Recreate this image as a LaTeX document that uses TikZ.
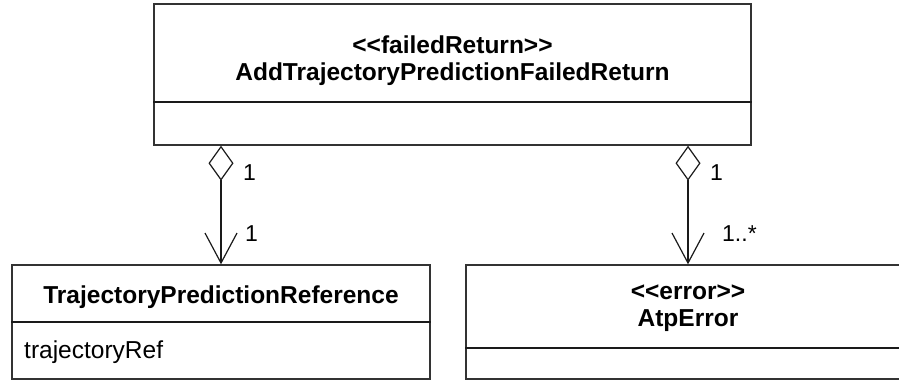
\documentclass[tikz,border=0pt]{standalone}
\usepackage{fontspec}
\setmainfont{Liberation Sans}
\usepackage{tikz}
\usetikzlibrary{arrows.meta, positioning, calc}
\definecolor{umlline}{HTML}{1A1A1A}
\definecolor{umlframe}{HTML}{333333}
\tikzset{
    classbox/.style={rectangle, draw=umlframe, line width=1.4pt, inner sep=0pt},
    sepline/.style={line width=1.2pt, draw=umlline},
    classname/.style={align=center, font=\fontsize{24.5}{27}\selectfont\bfseries, inner sep=0pt},
    attrtext/.style={anchor=west, font=\fontsize{24.5}{27}\selectfont, inner sep=0pt},
    mult/.style={anchor=west, font=\fontsize{23}{26}\selectfont, inner sep=0pt},
    aggrline/.style={{Diamond[open, length=35pt, width=25pt]}-{Straight Barb[length=30pt, width=32pt]}, line width=1.2pt, draw=umlline}
}
\begin{document}
\begin{tikzpicture}[x=1pt, y=-1pt]
    \useasboundingbox (0,0) rectangle (899,381);
    % classes
    \node[classbox, minimum width=597pt, minimum height=141pt] (ret) at (452.5,74.5) {};
    \node[classbox, minimum width=418pt, minimum height=114pt] (tpr) at (221,322) {};
    \node[classbox, minimum width=444pt, minimum height=114pt] (atp) at (688,322) {};
    \draw[sepline] (ret.west |- 0,102) -- (ret.east |- 0,102);
    \draw[sepline] (tpr.west |- 0,322) -- (tpr.east |- 0,322);
    \draw[sepline] (atp.west |- 0,348) -- (atp.east |- 0,348);
    % texts
    \node[classname] (retname) at (452.5,61) {<{}<failedReturn>{}>\\AddTrajectoryPredictionFailedReturn};
    \node[classname] (tprname) at (221,297) {TrajectoryPredictionReference};
    \node[attrtext] (tprattr) at (24,352) {trajectoryRef};
    \node[classname] (atpname) at (688,308) {<{}<error>{}>\\AtpError};
    % associations
    \draw[aggrline] (ret.south -| tpr.north) -- (tpr.north);
    \draw[aggrline] (ret.south -| atp.north) -- (atp.north);
    \node[mult] (m1) at (243,173) {1};
    \node[mult] (m2) at (245,234) {1};
    \node[mult] (m3) at (710,173) {1};
    \node[mult] (m4) at (722,234) {1..*};
\end{tikzpicture}
\end{document}
